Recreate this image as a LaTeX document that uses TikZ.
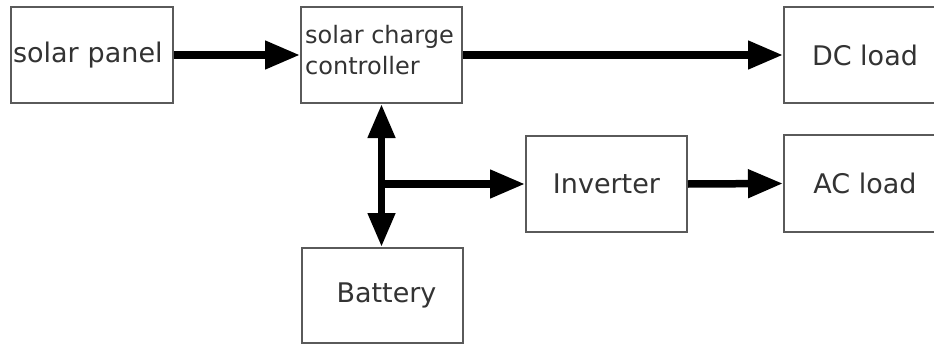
\documentclass[tikz,border=0pt]{standalone}
\usepackage{fontspec}
\setmainfont{DejaVu Sans}
\usetikzlibrary{arrows.meta}
\definecolor{boxgray}{HTML}{5A5A5A}
\definecolor{txtgray}{HTML}{333333}
\begin{document}
\begin{tikzpicture}[x=1pt,y=-1pt,
  blk/.style={draw=boxgray,line width=2pt,rectangle,inner sep=0pt,text=txtgray,
    font=\fontsize{27}{32}\selectfont},
  flow/.style={line width=7.5pt,-{Triangle[length=35pt,width=27pt]}},
  both/.style={line width=7.5pt,{Triangle[length=34pt,width=26pt]}-{Triangle[length=34pt,width=26pt]}},
  ]
\useasboundingbox (0,0) rectangle (934,345);
\clip (0,0) rectangle (934,345);
\fill[white] (0,0) rectangle (934,345);
\node[blk,minimum width=162pt,minimum height=96pt,text width=158pt,align=left] (panel) at (92,55) {solar panel};
\node[blk,minimum width=161pt,minimum height=96pt] (ctrl) at (381.5,55) {};
\node[anchor=north west,inner sep=0pt,text=txtgray,align=left,
  font=\fontsize{24}{31}\selectfont] (ctrltext) at (305,24.8) {solar charge\\controller};
\node[blk,minimum width=162pt,minimum height=96pt] (dc) at (865,55) {DC load};
\node[blk,minimum width=161pt,minimum height=96pt] (inv) at (606.5,184) {Inverter\hspace{4pt}};
\node[blk,minimum width=162pt,minimum height=97pt] (ac) at (865,183.5) {AC load\hspace{10pt}};
\node[blk,minimum width=161pt,minimum height=95pt] (batt) at (382.5,295.5) {\hspace{8pt}\raisebox{-2pt}{Battery}};
\draw[flow] (panel.east) -- (ctrl.west);
\draw[flow] (ctrl.east) -- (dc.west);
\draw[both] (ctrl.south) -- (ctrl.south |- batt.north);
\coordinate (j) at (ctrl.south |- inv.west);
\draw[flow] (j) -- (inv.west);
\draw[flow] (inv.east) -- (ac.west);
\end{tikzpicture}
\end{document}
